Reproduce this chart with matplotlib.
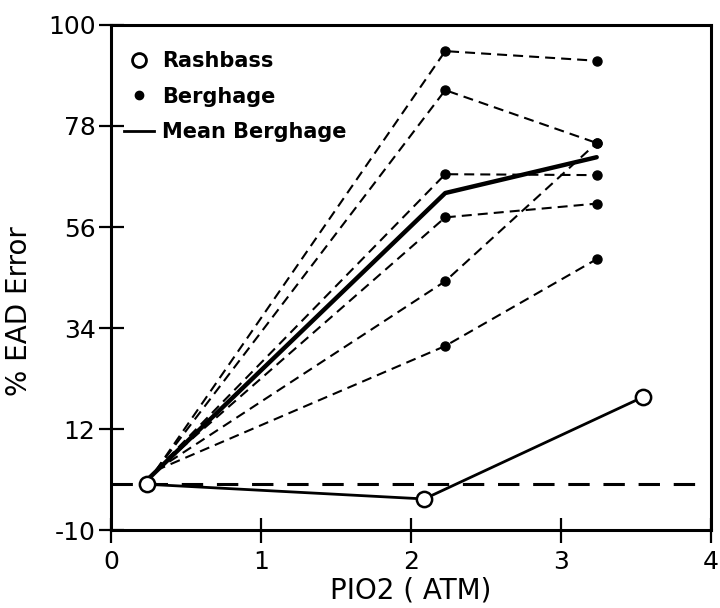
import numpy as np
import matplotlib.pyplot as plt
from matplotlib.lines import Line2D

plt.rcParams['axes.unicode_minus'] = False

# Rashbass data (open circles, solid line)
rashbass_x = [0.24, 2.09, 3.55]
rashbass_y = [0.0, -3.2, 19.0]

# Berghage data: six subjects, three PIO2 levels each
berghage_x = [0.30, 2.23, 3.24]
berghage_y = [
    [3.0, 94.3, 92.2],
    [3.0, 85.8, 74.3],
    [3.0, 67.5, 67.3],
    [3.0, 58.1, 61.1],
    [3.0, 44.2, 74.3],
    [3.0, 30.1, 49.0],
]

# Mean Berghage curve
mean_x = [0.26, 2.23, 3.24]
mean_y = [1.5, 63.4, 71.2]

# zero-error reference line
ref_x = [0.0, 3.93]
ref_y = [0.0, 0.0]

x_ticks = [0, 1, 2, 3, 4]
y_ticks = [-10, 12, 34, 56, 78, 100]


def main():
    fig = plt.figure(figsize=(7.2, 6.08), dpi=100)
    ax = fig.add_axes([0.154, 0.128, 0.833, 0.831])

    # reference line at zero
    ax.plot(ref_x, ref_y, color="black", lw=2.2, dashes=(7, 4.5), zorder=2)

    # individual Berghage curves
    for ys in berghage_y:
        ax.plot(berghage_x, ys, color="black", lw=1.5,
                dashes=(4.8, 2.9), zorder=3)
        ax.plot(berghage_x[1:], ys[1:], ls="none", marker="o", ms=6.5,
                color="black", zorder=4)

    # mean Berghage
    ax.plot(mean_x, mean_y, color="black", lw=3.2, solid_capstyle="round", zorder=5)

    # Rashbass
    ax.plot(rashbass_x, rashbass_y, color="black", lw=2.0, marker="o", ms=11,
            mfc="white", mec="black", mew=1.8, zorder=6)

    ax.set_xlim(0, 4)
    ax.set_ylim(-10, 100)
    ax.set_xticks(x_ticks)
    ax.set_yticks(y_ticks)
    ax.tick_params(axis="both", direction="inout", length=18, width=1.6,
                   labelsize=18)
    ax.tick_params(axis="y", pad=2)
    ax.tick_params(axis="x", pad=5)
    for sp in ax.spines.values():
        sp.set_linewidth(2.2)

    ax.set_xlabel("PIO2 ( ATM)", fontsize=20, labelpad=2)
    ax.set_ylabel("% EAD Error", fontsize=20)
    ax.yaxis.set_label_coords(-0.13, 0.434)

    handles = [
        Line2D([], [], ls="none", marker="o", ms=10, mfc="white", mec="black", mew=2),
        Line2D([], [], ls="none", marker="o", ms=6, color="black"),
        Line2D([], [], color="black", lw=2),
    ]
    ax.legend(handles, ["Rashbass", "Berghage", "Mean Berghage"],
              loc="upper left", bbox_to_anchor=(0.0, 0.975), frameon=False,
              prop={"size": 15, "weight": "bold"}, handlelength=1.4,
              handletextpad=0.4, labelspacing=0.75, borderaxespad=0.15,
              borderpad=0.5)

    plt.savefig("out.png", dpi=100)


if __name__ == '__main__':
    main()
